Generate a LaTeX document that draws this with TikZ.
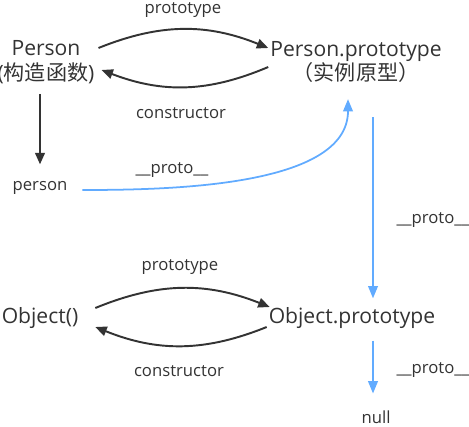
\documentclass[tikz,border=0pt]{standalone}
\usepackage{fontspec}
\setmainfont{Open Sans}
\newfontfamily\cjk{Noto Sans CJK SC}
\usetikzlibrary{arrows.meta,positioning}
\definecolor{inkgray}{RGB}{51,51,51}
\definecolor{protoblue}{RGB}{97,171,255}

\begin{document}
\begin{tikzpicture}[x=0.02cm,y=0.02cm,
		big/.style={font=\fontsize{12}{14.2}\selectfont,text=inkgray,align=center,inner sep=1pt},
		small/.style={font=\fontsize{9.5}{11}\selectfont,text=inkgray,inner sep=1pt},
		link/.style={draw=inkgray,line width=1.1pt,-{Triangle[length=6.5pt,width=5.5pt]}},
		protolink/.style={draw=protoblue,line width=1pt,-{Triangle[length=7pt,width=5.5pt]}}]
		
		\useasboundingbox (0,0) rectangle (469,426);
		
		% objects
		\node[big] (fn) at (46,364) {Person\\({\cjk 构造函数})};
		\node[big] (pproto) at (356,364) {Person.prototype\\{\cjk （实例原型）}};
		\node[small] (inst) at (40,238) {person};
		\node[big] (obj) at (40,108) {Object()};
		\node[big] (oproto) at (352,108) {Object.prototype};
		\node[small] (nul) at (376,9) {null};
		
		% labels
		\foreach \x/\y/\lab in {183/416/prototype, 181/313/constructor, 172/256/\_\_proto\_\_,
			433/206/\_\_proto\_\_, 180/159/prototype, 179/55/constructor, 433/56/\_\_proto\_\_}
		{
			\node[small] at (\x,\y) {\lab};
		}
		
		% Person <-> Person.prototype
		\draw[link] ([xshift=0.04cm,yshift=0.28cm]fn.east) to[bend left=22] ([yshift=0.28cm]pproto.west);
		\draw[link] ([yshift=-0.1cm]pproto.west) to[bend left=22] ([xshift=0.1cm,yshift=-0.16cm]fn.east);
		\draw[link] ([yshift=-0.16cm]inst.north |- fn.south) -- ([yshift=0.3cm]inst.north);
		
		% Object <-> Object.prototype
		\draw[link] ([xshift=0.3cm,yshift=0.2cm]obj.east) to[bend left=22] ([xshift=0.06cm,yshift=0.22cm]oproto.west);
		\draw[link] ([yshift=-0.18cm]oproto.west) to[bend left=22] ([xshift=0.3cm,yshift=-0.18cm]obj.east);
		
		% __proto__ chain
		\draw[protolink] ([xshift=0.26cm,yshift=-0.04cm]inst.east) to[out=0,in=-90,looseness=0.8] ([xshift=-0.16cm,yshift=-0.28cm]pproto.south);
		\draw[protolink,shorten <=0.64cm,shorten >=0.14cm] ([xshift=0.34cm]pproto.south) -- ([xshift=0.34cm]pproto.south |- oproto.north);
		\draw[protolink,shorten <=0.2cm,shorten >=0.3cm] ([xshift=0.42cm]oproto.south) -- ([xshift=0.42cm]oproto.south |- nul.north);
		
	\end{tikzpicture}
\end{document}
